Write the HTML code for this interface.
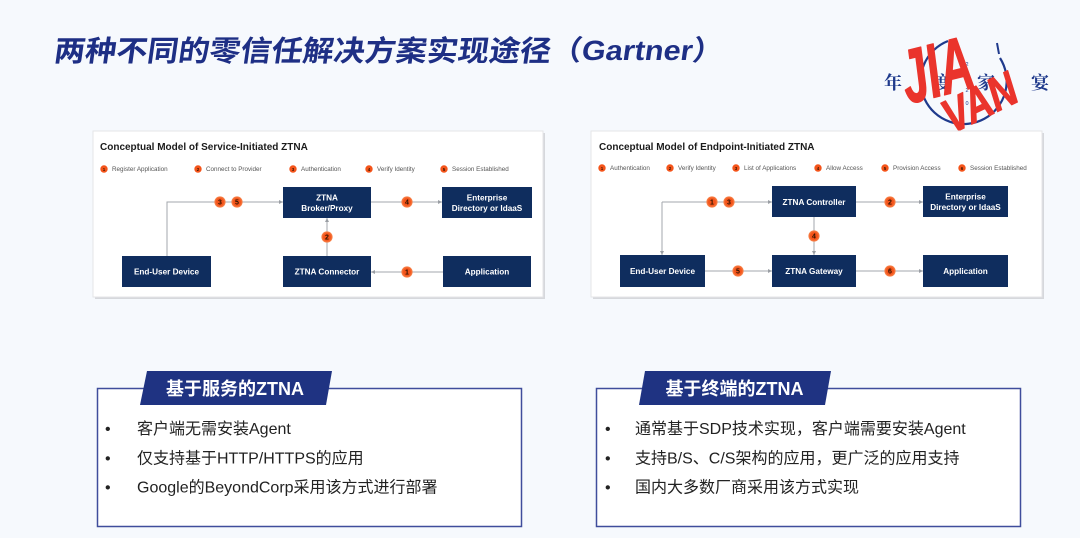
<!DOCTYPE html>
<html>
<head>
<meta charset="utf-8">
<style>
  html,body{margin:0;padding:0;background:#f6f9fd;}
  body{width:1080px;height:538px;overflow:hidden;}
  svg{display:block;}
</style>
</head>
<body>
<svg width="1080" height="538" viewBox="0 0 1080 538" xmlns="http://www.w3.org/2000/svg">
  <defs>
    <marker id="ar" viewBox="0 0 6 6" refX="6" refY="3" markerWidth="4" markerHeight="4" orient="auto">
      <path d="M0,0 L6,3 L0,6 z" fill="#9a9ea4"/>
    </marker>
    <radialGradient id="bg1" cx="50%" cy="50%" r="50%">
      <stop offset="0.6" stop-color="#f4541a"/>
      <stop offset="1" stop-color="#f7864d"/>
    </radialGradient>
  </defs>

  <rect x="0" y="0" width="1080" height="538" fill="#f6f9fd"/>

  <!-- Title -->
  <g transform="translate(53,61) skewX(-8)" fill="#1e2f85" font-family="'Liberation Sans','Noto Sans CJK SC',sans-serif" font-weight="bold">
    <text x="0" y="0" font-size="29" textLength="497" lengthAdjust="spacingAndGlyphs">两种不同的零信任解决方案实现途径</text>
    <text x="497" y="-1" font-size="28" textLength="172" lengthAdjust="spacingAndGlyphs">（Gartner）</text>
  </g>

  <!-- Logo -->
  <g>
    <path d="M 948 41 A 43 43 0 1 0 1000 58" fill="none" stroke="#1f3a8c" stroke-width="2.2"/>
    <path d="M 997 43 L 999 54" stroke="#1f3a8c" stroke-width="2"/>
    <g font-family="'Noto Serif CJK SC','Liberation Serif',serif" font-weight="bold" font-size="18" fill="#1f3a8c" text-anchor="middle">
      <text x="893" y="89">年</text>
      <text x="942" y="89">度</text>
      <text x="986" y="89">家</text>
      <text x="1040" y="89">宴</text>
    </g>
    <g font-family="'Liberation Sans',sans-serif" font-size="5.5" fill="#1f3a8c" text-anchor="middle">
      <text x="967" y="66">2</text>
      <text x="967" y="79">0</text>
      <text x="967" y="92">2</text>
      <text x="967" y="105">0</text>
    </g>
    <g fill="#ea342c" stroke="#ea342c" stroke-width="0.8" stroke-linejoin="round" font-family="'Liberation Sans',sans-serif" font-weight="bold" font-style="italic">
      <text transform="translate(908,104) rotate(-14) scale(1.0,1.65)" font-size="46">JIA</text>
      <text transform="translate(952,134) rotate(-26) scale(1.0,1.25)" font-size="38">VAN</text>
    </g>
  </g>

  <!-- Panel 1 -->
  <rect x="95" y="133" width="450" height="166" fill="#d6d8dc"/>
  <rect x="93" y="131" width="450" height="166" fill="#ffffff" stroke="#e4e5e7" stroke-width="1"/>
  <text x="100" y="150" font-family="'Liberation Sans',sans-serif" font-weight="bold" font-size="10" fill="#1b1b1b">Conceptual Model of Service-Initiated ZTNA</text>
  <g font-family="'Liberation Sans',sans-serif" font-size="6.3" fill="#555">
    <circle cx="104" cy="169" r="3.7" fill="#f4541a"/><text x="104" y="171" font-size="4.5" font-weight="bold" fill="#3a1400" text-anchor="middle">1</text>
    <text x="112" y="171.2">Register Application</text>
    <circle cx="198" cy="169" r="3.7" fill="#f4541a"/><text x="198" y="171" font-size="4.5" font-weight="bold" fill="#3a1400" text-anchor="middle">2</text>
    <text x="206" y="171.2">Connect to Provider</text>
    <circle cx="293" cy="169" r="3.7" fill="#f4541a"/><text x="293" y="171" font-size="4.5" font-weight="bold" fill="#3a1400" text-anchor="middle">3</text>
    <text x="301" y="171.2">Authentication</text>
    <circle cx="369" cy="169" r="3.7" fill="#f4541a"/><text x="369" y="171" font-size="4.5" font-weight="bold" fill="#3a1400" text-anchor="middle">4</text>
    <text x="377" y="171.2">Verify Identity</text>
    <circle cx="444" cy="169" r="3.7" fill="#f4541a"/><text x="444" y="171" font-size="4.5" font-weight="bold" fill="#3a1400" text-anchor="middle">5</text>
    <text x="452" y="171.2">Session Established</text>
  </g>
  <!-- connectors panel 1 -->
  <g stroke="#a3a7ac" stroke-width="1" fill="none">
    <path d="M167 256 V202 H283" marker-end="url(#ar)"/>
    <path d="M371 202 H442" marker-end="url(#ar)"/>
    <path d="M327 256 V218" marker-end="url(#ar)"/>
    <path d="M443 272 H371" marker-end="url(#ar)"/>
  </g>
  <!-- boxes panel 1 -->
  <g fill="#0f2d5e">
    <rect x="283" y="187" width="88" height="31"/>
    <rect x="442" y="187" width="90" height="31"/>
    <rect x="122" y="256" width="89" height="31"/>
    <rect x="283" y="256" width="88" height="31"/>
    <rect x="443" y="256" width="88" height="31"/>
  </g>
  <g font-family="'Liberation Sans',sans-serif" font-weight="bold" font-size="8.2" fill="#ffffff" text-anchor="middle">
    <text x="327" y="200.5">ZTNA</text>
    <text x="327" y="211">Broker/Proxy</text>
    <text x="487" y="200.5">Enterprise</text>
    <text x="487" y="211">Directory or IdaaS</text>
    <text x="166.5" y="274.5">End-User Device</text>
    <text x="327" y="274.5">ZTNA Connector</text>
    <text x="487" y="274.5">Application</text>
  </g>
  <!-- badges panel 1 -->
  <g font-family="'Liberation Sans',sans-serif" font-weight="bold" font-size="7" fill="#2a1000" text-anchor="middle">
    <circle cx="220" cy="202" r="5.6" fill="url(#bg1)"/><text x="220" y="204.5">3</text>
    <circle cx="237" cy="202" r="5.6" fill="url(#bg1)"/><text x="237" y="204.5">5</text>
    <circle cx="407" cy="202" r="5.6" fill="url(#bg1)"/><text x="407" y="204.5">4</text>
    <circle cx="327" cy="237" r="5.6" fill="url(#bg1)"/><text x="327" y="239.5">2</text>
    <circle cx="407" cy="272" r="5.6" fill="url(#bg1)"/><text x="407" y="274.5">1</text>
  </g>

  <!-- Panel 2 -->
  <rect x="593" y="133" width="451" height="166" fill="#d6d8dc"/>
  <rect x="591" y="131" width="451" height="166" fill="#ffffff" stroke="#e4e5e7" stroke-width="1"/>
  <text x="599" y="150" font-family="'Liberation Sans',sans-serif" font-weight="bold" font-size="10" fill="#1b1b1b">Conceptual Model of Endpoint-Initiated ZTNA</text>
  <g font-family="'Liberation Sans',sans-serif" font-size="6.3" fill="#555">
    <circle cx="602" cy="168" r="3.7" fill="#f4541a"/><text x="602" y="170" font-size="4.5" font-weight="bold" fill="#3a1400" text-anchor="middle">1</text>
    <text x="610" y="170.2">Authentication</text>
    <circle cx="670" cy="168" r="3.7" fill="#f4541a"/><text x="670" y="170" font-size="4.5" font-weight="bold" fill="#3a1400" text-anchor="middle">2</text>
    <text x="678" y="170.2">Verify Identity</text>
    <circle cx="736" cy="168" r="3.7" fill="#f4541a"/><text x="736" y="170" font-size="4.5" font-weight="bold" fill="#3a1400" text-anchor="middle">3</text>
    <text x="744" y="170.2">List of Applications</text>
    <circle cx="818" cy="168" r="3.7" fill="#f4541a"/><text x="818" y="170" font-size="4.5" font-weight="bold" fill="#3a1400" text-anchor="middle">4</text>
    <text x="826" y="170.2">Allow Access</text>
    <circle cx="885" cy="168" r="3.7" fill="#f4541a"/><text x="885" y="170" font-size="4.5" font-weight="bold" fill="#3a1400" text-anchor="middle">5</text>
    <text x="893" y="170.2">Provision Access</text>
    <circle cx="962" cy="168" r="3.7" fill="#f4541a"/><text x="962" y="170" font-size="4.5" font-weight="bold" fill="#3a1400" text-anchor="middle">6</text>
    <text x="970" y="170.2">Session Established</text>
  </g>
  <g stroke="#a3a7ac" stroke-width="1" fill="none">
    <path d="M662 202 H772" marker-end="url(#ar)"/>
    <path d="M662 202 V255" marker-end="url(#ar)"/>
    <path d="M856 202 H923" marker-end="url(#ar)"/>
    <path d="M814 217 V255" marker-end="url(#ar)"/>
    <path d="M705 271 H772" marker-end="url(#ar)"/>
    <path d="M856 271 H923" marker-end="url(#ar)"/>
  </g>
  <g fill="#0f2d5e">
    <rect x="772" y="186" width="84" height="31"/>
    <rect x="923" y="186" width="85" height="31"/>
    <rect x="620" y="255" width="85" height="32"/>
    <rect x="772" y="255" width="84" height="32"/>
    <rect x="923" y="255" width="85" height="32"/>
  </g>
  <g font-family="'Liberation Sans',sans-serif" font-weight="bold" font-size="8.2" fill="#ffffff" text-anchor="middle">
    <text x="814" y="205">ZTNA Controller</text>
    <text x="965.5" y="199.5">Enterprise</text>
    <text x="965.5" y="210">Directory or IdaaS</text>
    <text x="662.5" y="274">End-User Device</text>
    <text x="814" y="274">ZTNA Gateway</text>
    <text x="965.5" y="274">Application</text>
  </g>
  <g font-family="'Liberation Sans',sans-serif" font-weight="bold" font-size="7" fill="#2a1000" text-anchor="middle">
    <circle cx="712" cy="202" r="5.6" fill="url(#bg1)"/><text x="712" y="204.5">1</text>
    <circle cx="729" cy="202" r="5.6" fill="url(#bg1)"/><text x="729" y="204.5">3</text>
    <circle cx="890" cy="202" r="5.6" fill="url(#bg1)"/><text x="890" y="204.5">2</text>
    <circle cx="814" cy="236" r="5.6" fill="url(#bg1)"/><text x="814" y="238.5">4</text>
    <circle cx="738" cy="271" r="5.6" fill="url(#bg1)"/><text x="738" y="273.5">5</text>
    <circle cx="890" cy="271" r="5.6" fill="url(#bg1)"/><text x="890" y="273.5">6</text>
  </g>

  <!-- Bottom left card -->
  <rect x="97.5" y="388.5" width="424" height="138" fill="#ffffff" stroke="#3f4d9c" stroke-width="1.5"/>
  <polygon points="147,371 332,371 326,405 140,405" fill="#1f3382"/>
  <text x="235" y="395" text-anchor="middle" font-family="'Liberation Sans','Noto Sans CJK SC',sans-serif" font-weight="bold" font-size="18" fill="#ffffff">基于服务的ZTNA</text>
  <g font-family="'Liberation Sans','Noto Sans CJK SC',sans-serif" font-size="16" fill="#222">
    <text x="105" y="434">•</text>
    <text x="137" y="434">客户端无需安装Agent</text>
    <text x="105" y="463.5">•</text>
    <text x="137" y="463.5">仅支持基于HTTP/HTTPS的应用</text>
    <text x="105" y="492.5">•</text>
    <text x="137" y="492.5">Google的BeyondCorp采用该方式进行部署</text>
  </g>

  <!-- Bottom right card -->
  <rect x="596.5" y="388.5" width="424" height="138" fill="#ffffff" stroke="#3f4d9c" stroke-width="1.5"/>
  <polygon points="645,371 831,371 825,405 639,405" fill="#1f3382"/>
  <text x="734.5" y="395" text-anchor="middle" font-family="'Liberation Sans','Noto Sans CJK SC',sans-serif" font-weight="bold" font-size="18" fill="#ffffff">基于终端的ZTNA</text>
  <g font-family="'Liberation Sans','Noto Sans CJK SC',sans-serif" font-size="16" fill="#222">
    <text x="605" y="434">•</text>
    <text x="635" y="434">通常基于SDP技术实现，客户端需要安装Agent</text>
    <text x="605" y="463.5">•</text>
    <text x="635" y="463.5">支持B/S、C/S架构的应用，更广泛的应用支持</text>
    <text x="605" y="492.5">•</text>
    <text x="635" y="492.5">国内大多数厂商采用该方式实现</text>
  </g>
</svg>
</body>
</html>
